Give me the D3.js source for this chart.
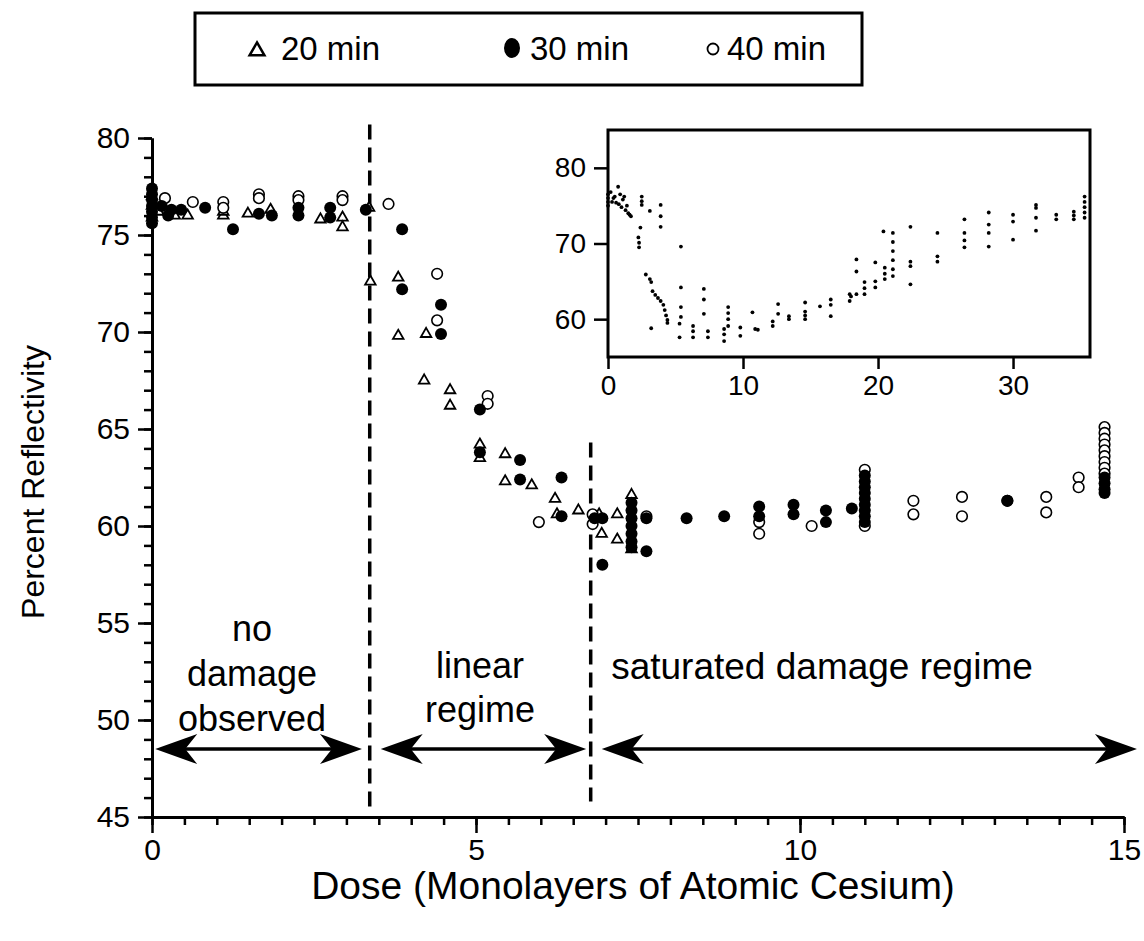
<!DOCTYPE html>
<html>
<head>
<meta charset="utf-8">
<script src="https://cdn.jsdelivr.net/npm/d3@7"></script>
<style>
  body { margin: 0; background: #fff; }
  text { font-family: "Liberation Sans", Arial, Helvetica, sans-serif; fill: #000; }
</style>
</head>
<body>
<script>
// Reflectivity vs cesium dose, three exposure times + inset over the full dose range

// [dose, percent reflectivity]
const min20 = [
  [0, 75.9], [0, 76.5], [0, 77.0], [0.1, 76.2], [0.35, 76.0], [0.55, 76.0],
  [1.1, 76.0], [1.1, 76.2], [1.48, 76.1], [1.83, 76.3], [2.6, 75.8],
  [2.94, 75.9], [2.94, 75.4], [3.35, 76.4],
  [3.37, 72.6], [3.8, 72.8], [3.8, 69.8], [4.23, 69.9], [4.2, 67.5],
  [4.6, 67.0], [4.6, 66.2], [5.06, 64.2], [5.06, 63.5], [5.45, 63.7],
  [5.45, 62.3], [5.86, 62.1], [6.22, 61.4], [6.25, 60.6], [6.58, 60.8],
  [6.9, 60.6], [6.94, 59.6], [7.18, 60.6], [7.18, 59.3], [7.4, 61.6], [7.4, 58.8]
];
const min30 = [
  [0, 75.6], [0, 75.9], [0, 76.2], [0, 76.5], [0, 76.8], [0, 77.1], [0, 77.4],
  [0.15, 76.5], [0.3, 76.3], [0.25, 76.0], [0.45, 76.3], [0.82, 76.4], [1.25, 75.3],
  [1.65, 76.1], [1.85, 76.0], [2.26, 76.4], [2.26, 76.0], [2.75, 76.4], [2.75, 75.9],
  [3.3, 76.3], [3.86, 75.3], [3.86, 72.2], [4.46, 71.4], [4.46, 69.9],
  [5.06, 66.0], [5.06, 63.8], [5.68, 63.4], [5.68, 62.4], [6.32, 62.5],
  [6.32, 60.5], [6.83, 60.4], [6.95, 60.4], [6.95, 58.0],
  [7.4, 61.2], [7.4, 60.8], [7.4, 60.4], [7.4, 60.0], [7.4, 59.6], [7.4, 59.2], [7.4, 58.9],
  [7.63, 60.4], [7.63, 58.7], [8.25, 60.4], [8.83, 60.5], [9.37, 61.0],
  [9.37, 60.5], [9.9, 61.1], [9.9, 60.6], [10.4, 60.8], [10.4, 60.2], [10.8, 60.9],
  [11.0, 62.6], [11.0, 62.3], [11.0, 62.0], [11.0, 61.7], [11.0, 61.4],
  [11.0, 61.1], [11.0, 60.8], [11.0, 60.5], [11.0, 60.2],
  [13.2, 61.3], [14.7, 62.5], [14.7, 62.2], [14.7, 61.9], [14.7, 61.7]
];
const min40 = [
  [0.2, 76.9], [0.63, 76.7], [1.1, 76.7],
  [1.1, 76.4], [1.65, 77.1], [1.65, 76.9], [2.26, 77.0], [2.26, 76.8],
  [2.94, 77.0], [2.94, 76.8], [3.65, 76.6], [4.4, 73.0], [4.4, 70.6],
  [5.18, 66.7], [5.18, 66.3], [5.97, 60.2], [6.8, 60.6], [6.8, 60.1],
  [7.63, 60.5], [9.37, 60.2], [9.37, 59.6], [10.18, 60.0], [11.0, 62.9],
  [11.0, 60.0], [11.75, 61.3], [11.75, 60.6], [12.5, 61.5], [12.5, 60.5],
  [13.2, 61.3], [13.8, 61.5], [13.8, 60.7], [14.3, 62.5], [14.3, 62.0],
  [14.7, 65.1], [14.7, 64.8], [14.7, 64.5], [14.7, 64.2], [14.7, 63.9],
  [14.7, 63.6], [14.7, 63.3], [14.7, 63.0], [14.7, 62.7]
];

// inset: all runs, dose out to ~35 monolayers
const insetPoints = [
  [0, 76.5], [0, 76.0], [0, 75.5], [0, 75.0], [0.2, 76.8], [0.3, 75.5], [0.4, 76.0],
  [0.5, 76.2], [0.6, 75.4], [0.75, 77.5], [0.8, 75.2], [0.9, 76.5], [1.0, 74.8],
  [1.1, 75.8], [1.2, 76.2], [1.3, 74.4], [1.4, 75.0], [1.5, 74.0], [1.6, 73.8],
  [1.7, 73.6], [2.5, 76.2], [2.5, 75.6], [2.5, 75.1], [3.1, 74.3], [3.9, 75.1],
  [3.9, 73.6], [3.9, 72.2], [2.4, 72.1], [2.25, 70.8], [2.3, 70.1], [2.3, 69.5],
  [5.4, 69.6], [2.8, 65.9], [3.1, 65.3], [3.2, 64.9], [3.3, 63.7], [3.5, 63.2],
  [3.7, 62.8], [3.9, 62.4], [4.1, 61.9], [4.2, 61.2], [4.3, 60.5], [4.4, 59.9],
  [4.4, 59.5], [3.2, 58.8], [5.4, 64.2], [5.4, 61.6], [5.4, 60.3], [5.3, 59.4],
  [5.3, 57.6], [6.3, 59.1], [6.3, 58.4], [6.3, 57.6], [7.1, 64.0], [7.1, 62.6],
  [7.1, 60.7], [7.4, 58.4], [7.4, 57.6], [8.6, 58.7], [8.6, 58.0], [8.6, 57.1],
  [8.9, 61.6], [8.9, 60.8], [8.9, 60.0], [8.9, 59.1], [9.8, 58.9], [9.8, 57.8],
  [10.7, 60.9], [10.9, 58.7], [11.1, 58.6], [12.2, 59.7], [12.2, 59.1],
  [12.6, 62.0], [12.6, 60.7], [13.4, 60.4], [13.4, 60.0], [14.6, 62.2],
  [14.6, 61.0], [14.6, 60.5], [14.6, 60.0], [15.7, 61.7], [16.5, 62.6],
  [16.5, 61.9], [16.5, 60.4], [17.9, 63.3], [17.9, 62.4], [18.0, 63.0],
  [18.4, 67.9], [18.4, 66.3], [18.4, 63.3], [19.0, 64.9], [19.0, 64.1],
  [19.0, 63.3], [19.8, 65.0], [19.8, 64.2], [19.8, 67.5], [20.5, 66.8],
  [20.5, 66.0], [20.5, 65.3], [20.4, 71.6], [21.1, 71.4], [21.1, 70.2],
  [21.1, 69.0], [21.1, 67.8], [21.1, 66.6], [21.1, 65.7], [22.4, 72.2],
  [22.4, 67.6], [22.4, 67.0], [22.4, 64.6], [24.4, 71.4], [24.4, 68.3],
  [24.4, 67.6], [26.4, 73.2], [26.4, 71.4], [26.4, 70.4], [26.4, 69.5],
  [28.2, 74.1], [28.2, 72.5], [28.2, 71.4], [28.2, 69.6], [30.0, 73.8],
  [30.0, 72.9], [30.0, 70.5], [31.7, 75.1], [31.7, 74.7], [31.7, 73.4],
  [31.7, 71.7], [33.2, 73.8], [33.2, 73.2], [34.5, 74.2], [34.5, 73.7],
  [34.5, 73.2], [35.3, 76.2], [35.3, 75.5], [35.3, 74.8], [35.3, 74.1], [35.3, 73.4]
];

const xMajor = [0, 5, 10, 15];
const yMajor = [45, 50, 55, 60, 65, 70, 75, 80];
const insetXTicks = [0, 10, 20, 30];
const insetYTicks = [60, 70, 80];
const legendLabels = ["20 min", "30 min", "40 min"];
const regimeBounds = [3.36, 6.77];
const regimeArrows = [[0.05, 3.24], [3.53, 6.7], [6.94, 15.2]];
const arrowLevel = 48.5;

const svg = d3.select("body").append("svg")
  .attr("width", 1144).attr("height", 941);

const x = d3.scaleLinear().domain([0, 15]).range([152, 1124]);
const y = d3.scaleLinear().domain([45, 80]).range([817, 138]);

// ---- axes
const xAxisG = svg.append("g").attr("transform", "translate(0,817)");
xAxisG.call(d3.axisBottom(x).tickValues(d3.range(0, 15.01, 0.5)).tickSize(8).tickFormat("").tickSizeOuter(0));
xAxisG.append("g").call(d3.axisBottom(x).tickValues(xMajor).tickSize(16).tickPadding(6).tickSizeOuter(0));

const yAxisG = svg.append("g").attr("transform", "translate(152,0)");
yAxisG.call(d3.axisLeft(y).tickValues(d3.range(45, 80.01, 1)).tickSize(8).tickFormat("").tickSizeOuter(0));
yAxisG.append("g").call(d3.axisLeft(y).tickValues(yMajor).tickSize(14).tickPadding(8).tickSizeOuter(0));

svg.selectAll(".domain").attr("stroke", "#000").attr("stroke-width", 3);
svg.selectAll(".tick line").attr("stroke", "#000").attr("stroke-width", 2.5);
svg.selectAll(".tick text").style("font-size", "30px");

svg.append("text")
  .attr("transform", "translate(44,482) rotate(-90)")
  .attr("text-anchor", "middle")
  .style("font-size", "32px")
  .text("Percent Reflectivity");

svg.append("text")
  .attr("x", 633).attr("y", 899)
  .attr("text-anchor", "middle")
  .style("font-size", "39px")
  .text("Dose (Monolayers of Atomic Cesium)");

// ---- regime boundaries
svg.append("line")
  .attr("x1", x(regimeBounds[0])).attr("x2", x(regimeBounds[0]))
  .attr("y1", y(80.7)).attr("y2", y(45.3))
  .attr("stroke", "#000").attr("stroke-width", 3.5).attr("stroke-dasharray", "15,8");
svg.append("line")
  .attr("x1", x(regimeBounds[1])).attr("x2", x(regimeBounds[1]))
  .attr("y1", y(64.3)).attr("y2", y(45.8))
  .attr("stroke", "#000").attr("stroke-width", 3.5).attr("stroke-dasharray", "15,8");

// double-headed arrows
function arrowHead(tipX, tipY, dir) {
  const L = 42, W = 15, notch = 30;
  return `M${tipX},${tipY} L${tipX - dir * L},${tipY - W} L${tipX - dir * notch},${tipY} L${tipX - dir * L},${tipY + W} Z`;
}
regimeArrows.forEach(([a, b]) => {
  const ay = y(arrowLevel);
  svg.append("line")
    .attr("x1", x(a) + 10).attr("x2", x(b) - 10)
    .attr("y1", ay).attr("y2", ay)
    .attr("stroke", "#000").attr("stroke-width", 3.5);
  svg.append("path").attr("d", arrowHead(x(a), ay, -1)).attr("fill", "#000");
  svg.append("path").attr("d", arrowHead(x(b), ay, 1)).attr("fill", "#000");
});

const notes = svg.append("g").style("font-size", "36px").attr("text-anchor", "middle");
notes.append("text").attr("x", 252).attr("y", 641).text("no");
notes.append("text").attr("x", 252).attr("y", 686).text("damage");
notes.append("text").attr("x", 252).attr("y", 731).text("observed");
notes.append("text").attr("x", 480).attr("y", 678).text("linear");
notes.append("text").attr("x", 480).attr("y", 722).text("regime");
notes.append("text").attr("x", 822).attr("y", 679).style("font-size", "37px").text("saturated damage regime");

// ---- data markers
const tri = d3.symbol(d3.symbolTriangle, 48);
svg.append("g").selectAll("path").data(min20).join("path")
  .attr("d", tri)
  .attr("transform", d => `translate(${x(d[0])},${y(d[1])})`)
  .attr("fill", "#fff").attr("stroke", "#000").attr("stroke-width", 1.8);

svg.append("g").selectAll("circle").data(min40).join("circle")
  .attr("cx", d => x(d[0])).attr("cy", d => y(d[1])).attr("r", 5.3)
  .attr("fill", "#fff").attr("stroke", "#000").attr("stroke-width", 1.6);

svg.append("g").selectAll("circle").data(min30).join("circle")
  .attr("cx", d => x(d[0])).attr("cy", d => y(d[1])).attr("r", 6)
  .attr("fill", "#000");

// ---- legend
const leg = svg.append("g");
leg.append("rect").attr("x", 195).attr("y", 13).attr("width", 667).attr("height", 72)
  .attr("fill", "none").attr("stroke", "#000").attr("stroke-width", 3);
const legText = leg.append("g").style("font-size", "33px");
legText.append("text").attr("x", 281).attr("y", 60).text(legendLabels[0]);
legText.append("text").attr("x", 530).attr("y", 60).text(legendLabels[1]);
legText.append("text").attr("x", 727).attr("y", 60).text(legendLabels[2]);
leg.append("path").attr("d", d3.symbol(d3.symbolTriangle, 95))
  .attr("transform", "translate(257,51)")
  .attr("fill", "none").attr("stroke", "#000").attr("stroke-width", 2.5);
leg.append("ellipse").attr("cx", 512).attr("cy", 48).attr("rx", 8).attr("ry", 10).attr("fill", "#000");
leg.append("circle").attr("cx", 713).attr("cy", 49).attr("r", 5.5)
  .attr("fill", "none").attr("stroke", "#000").attr("stroke-width", 1.8);

// ---- inset
const ix = d3.scaleLinear().domain([0, 35.7]).range([608, 1090]);
const iy = d3.scaleLinear().domain([55, 85]).range([357, 130]);

const inset = svg.append("g");
inset.append("rect")
  .attr("x", ix(0)).attr("y", iy(85))
  .attr("width", ix(35.7) - ix(0)).attr("height", iy(55) - iy(85))
  .attr("fill", "#fff").attr("stroke", "#000").attr("stroke-width", 3);

inset.append("g").attr("transform", `translate(0,${iy(55)})`)
  .call(d3.axisBottom(ix).tickValues(insetXTicks).tickSize(12).tickPadding(6).tickSizeOuter(0));
inset.append("g").attr("transform", `translate(${ix(0)},0)`)
  .call(d3.axisLeft(iy).tickValues(insetYTicks).tickSize(14).tickPadding(8).tickSizeOuter(0));
inset.selectAll(".domain").remove();
inset.selectAll(".tick line").attr("stroke", "#000").attr("stroke-width", 2.5);
inset.selectAll(".tick text").style("font-size", "28px");

inset.append("g").selectAll("circle").data(insetPoints).join("circle")
  .attr("cx", d => ix(d[0])).attr("cy", d => iy(d[1])).attr("r", 1.9)
  .attr("fill", "#000");
</script>
</body>
</html>
